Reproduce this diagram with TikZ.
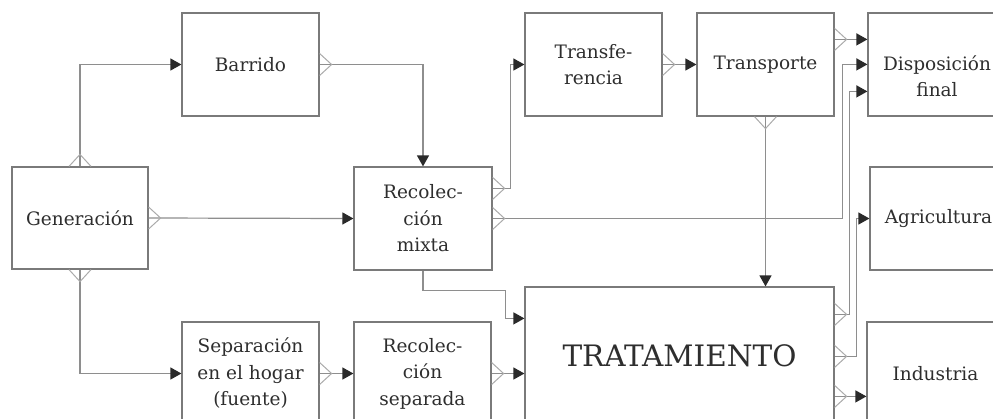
\documentclass[tikz,border=0pt]{standalone}
\usepackage{fontspec}
\setmainfont{DejaVu Serif}
\usetikzlibrary{calc,arrows.meta}
\definecolor{boxc}{HTML}{7A7A7A}
\definecolor{linec}{HTML}{8E8E8E}
\definecolor{crowc}{HTML}{ABABAB}
\definecolor{tipc}{HTML}{2A2A2A}
\definecolor{txtc}{HTML}{2E2E2E}
\tikzset{
  blk/.style={draw=boxc, line width=1.2pt, rectangle, inner sep=0pt,
    align=center, text=txtc, font=\fontsize{18.5}{26.5}\selectfont},
  conn/.style={draw=linec, line width=1.2pt,
    -{Triangle[length=11pt,width=12pt,fill=tipc,color=tipc]}},
  crow/.style={draw=crowc, line width=1pt},
}
\newcommand\cfoot[3]{%
  \draw[crow] ($(#1)+(#3*11,#2*11)$) -- ($(#1)+(#2*12,#3*12)$) -- ($(#1)-(#3*11,#2*11)$);}
\begin{document}
\begin{tikzpicture}[x=1pt,y=-1pt]
\useasboundingbox (0,0) rectangle (993,418);
\clip (0,0) rectangle (993,418);
\fill[white] (0,0) rectangle (993,418);
% boxes
\node[blk, minimum width=136pt, minimum height=102pt] (gen) at (80,218) {Generación};
\node[blk, minimum width=137pt, minimum height=103pt] (barr) at (250.5,64.5) {Barrido};
\node[blk, minimum width=138pt, minimum height=103pt] (rmix) at (423,218.5) {Recolec-\\ción\\mixta};
\node[blk, minimum width=137pt, minimum height=103pt] (transf) at (593.5,64.5) {Transfe-\\rencia};
\node[blk, minimum width=137pt, minimum height=103pt] (transp) at (765.5,64.5) {Transporte};
\node[blk, minimum width=137pt, minimum height=103pt] (disp) at (936.5,64.5) {};
\node[align=center, text=txtc, font=\fontsize{18.5}{26.5}\selectfont] (disptxt) at (937,76) {Disposición\\final};
\node[blk, minimum width=137pt, minimum height=103pt] (agri) at (938.5,218.5) {Agricultura};
\node[blk, minimum width=137pt, minimum height=103pt] (ind) at (935.5,373.5) {Industria};
\node[blk, minimum width=309pt, minimum height=138pt, font=\fontsize{29.5}{34}\selectfont] (trat) at (679.5,356) {TRATAMIENTO};
\node[blk, minimum width=137pt, minimum height=103pt] (sep) at (250.5,373.5) {Separación\\en el hogar\\(fuente)};
\node[blk, minimum width=137pt, minimum height=103pt] (rsep) at (422.5,373.5) {Recolec-\\ción\\separada};
% anchor points
\coordinate (r1) at ($(rmix.north east)+(0,22)$);
\coordinate (tp1) at ($(transp.north east)+(0,27)$);
\coordinate (d40) at ($(disp.north west)+(0,27)$);
\coordinate (d65) at ($(disp.north west)+(0,52)$);
\coordinate (d92) at ($(disp.north west)+(0,79)$);
\coordinate (t1) at ($(trat.north east)+(0,28)$);
\coordinate (t2) at ($(trat.north east)+(0,70)$);
\coordinate (t3) at ($(trat.north east)+(0,110)$);
\coordinate (i397) at ($(ind.north west)+(0,75)$);
\coordinate (tw319) at ($(trat.north west)+(0,32)$);
\coordinate (bend) at ($(trat.north west)+(-19,4)$);
\coordinate (tn) at (transp.south |- trat.north);
\coordinate (tw372) at (rsep.east -| trat.west);
% connectors
\draw[conn] (gen.north) |- (barr.west);
\draw[conn] (gen.east) -- (rmix.west);
\draw[conn] (gen.south) |- (sep.west);
\draw[conn] (barr.east) -| (rmix.north);
\draw[conn] (r1) -| ($(transf.west)+(-14,0)$) -- (transf.west);
\draw[conn] (rmix.east) -| ($(d65)+(-25,0)$) -- (d65);
\draw[conn] (transf.east) -- (transp.west);
\draw[conn] (tp1) -- (d40);
\draw[conn] (transp.south) -- (tn);
\draw[conn] (rmix.south) |- (bend) |- (tw319);
\draw[conn] (t1) -| ($(d92)+(-18,0)$) -- (d92);
\draw[conn] (t2) -| ($(agri.west)+(-13,0)$) -- (agri.west);
\draw[conn] (t3) -- (i397);
\draw[conn] (sep.east) -- (rsep.west);
\draw[conn] (rsep.east) -- (tw372);
% crow's feet
\cfoot{gen.north}{0}{-1}
\cfoot{gen.east}{1}{0}
\cfoot{gen.south}{0}{1}
\cfoot{barr.east}{1}{0}
\cfoot{r1}{1}{0}
\cfoot{rmix.east}{1}{0}
\cfoot{transf.east}{1}{0}
\cfoot{tp1}{1}{0}
\cfoot{transp.south}{0}{1}
\cfoot{t1}{1}{0}
\cfoot{t2}{1}{0}
\cfoot{t3}{1}{0}
\cfoot{sep.east}{1}{0}
\cfoot{rsep.east}{1}{0}
\end{tikzpicture}
\end{document}
